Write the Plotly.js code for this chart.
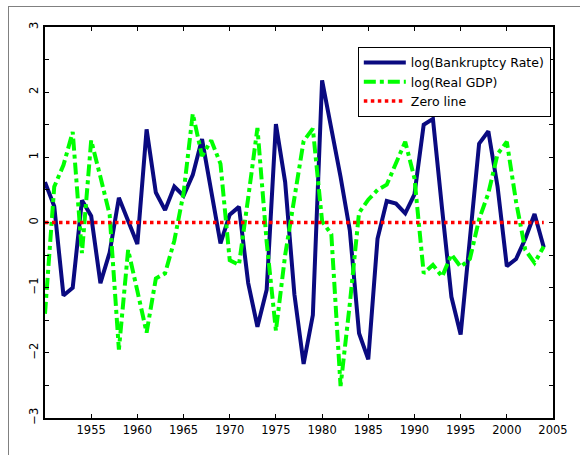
<!DOCTYPE html>
<html>
<head>
<meta charset="utf-8">
<script src="https://cdn.plot.ly/plotly-3.0.1.min.js"></script>
<style>
  html, body { margin: 0; padding: 0; background: #ffffff; }
  #wrap { position: relative; width: 580px; height: 455px; }
  #chart { position: absolute; left: 0; top: 0; width: 580px; height: 455px; }
  #frame { position: absolute; left: 8px; top: 6px; width: 572px; height: 449px;
           border-left: 1px solid #808080; border-top: 1px solid #808080; box-sizing: border-box; pointer-events: none; }
</style>
</head>
<body>
<div id="wrap">
  <div id="chart"></div>
  <div id="frame"></div>
</div>
<script>
const years = [1950, 1951, 1952, 1953, 1954, 1955, 1956, 1957, 1958, 1959,
               1960, 1961, 1962, 1963, 1964, 1965, 1966, 1967, 1968, 1969,
               1970, 1971, 1972, 1973, 1974, 1975, 1976, 1977, 1978, 1979,
               1980, 1981, 1982, 1983, 1984, 1985, 1986, 1987, 1988, 1989,
               1990, 1991, 1992, 1993, 1994, 1995, 1996, 1997, 1998, 1999,
               2000, 2001, 2002, 2003, 2004];

const logBankruptcyRate = [0.62, 0.25, -1.12, -1.00, 0.34, 0.10, -0.93, -0.46, 0.38, 0.03,
                           -0.33, 1.43, 0.46, 0.19, 0.55, 0.41, 0.73, 1.28, 0.50, -0.32,
                           0.12, 0.24, -0.93, -1.60, -1.03, 1.51, 0.62, -1.10, -2.17, -1.42,
                           2.18, 1.45, 0.70, -0.12, -1.70, -2.10, -0.25, 0.33, 0.29, 0.14,
                           0.43, 1.50, 1.59, 0.20, -1.14, -1.72, -0.28, 1.21, 1.40, 0.55,
                           -0.67, -0.56, -0.25, 0.13, -0.38];

const logRealGDP = [-1.40, 0.55, 0.88, 1.39, -0.47, 1.26, 0.70, 0.12, -1.95, -0.42,
                    -1.05, -1.69, -0.86, -0.78, -0.28, 0.45, 1.67, 1.02, 1.26, 0.90,
                    -0.58, -0.65, 0.38, 1.45, -0.30, -1.66, -0.50, 0.40, 1.25, 1.44,
                    0.02, -0.18, -2.51, -1.25, 0.15, 0.35, 0.50, 0.58, 0.92, 1.24,
                    0.68, -0.78, -0.65, -0.83, -0.49, -0.68, -0.56, 0.05, 0.45, 1.05,
                    1.24, 0.32, -0.42, -0.62, -0.37];

const zeroLine = [0, 0, 0, 0, 0, 0, 0, 0, 0, 0,
                  0, 0, 0, 0, 0, 0, 0, 0, 0, 0,
                  0, 0, 0, 0, 0, 0, 0, 0, 0, 0,
                  0, 0, 0, 0, 0, 0, 0, 0, 0, 0,
                  0, 0, 0, 0, 0, 0, 0, 0, 0, 0,
                  0, 0, 0, 0, 0];

const seriesNames = ['log(Bankruptcy Rate)', 'log(Real GDP)', 'Zero line'];
const xTickVals = [1955, 1960, 1965, 1970, 1975, 1980, 1985, 1990, 1995, 2000, 2005];
const yTickVals = [-3, -2, -1, 0, 1, 2, 3];

const font = { family: 'DejaVu Sans, sans-serif', size: 11.5, color: '#000000' };
const legendFont = { family: 'DejaVu Sans, sans-serif', size: 12.5, color: '#000000' };

const traces = [
  { x: years, y: logBankruptcyRate, name: seriesNames[0], type: 'scatter', mode: 'lines',
    line: { color: '#0a0a80', width: 4 } },
  { x: years, y: logRealGDP, name: seriesNames[1], type: 'scatter', mode: 'lines',
    line: { color: '#00ff00', width: 4, dash: 'dashdot' } },
  { x: years, y: zeroLine, name: seriesNames[2], type: 'scatter', mode: 'lines',
    line: { color: '#ff0000', width: 3.5, dash: 'dot' } }
];

const layout = {
  width: 580, height: 455,
  margin: { l: 45, r: 27, t: 27, b: 37, pad: 0 },
  paper_bgcolor: '#ffffff', plot_bgcolor: '#ffffff',
  font: font,
  showlegend: true,
  legend: {
    x: 0.9957, y: 0.949, xanchor: 'right', yanchor: 'top',
    bgcolor: '#ffffff', bordercolor: '#000000', borderwidth: 1,
    font: legendFont, tracegroupgap: 0, itemwidth: 42
  },
  xaxis: {
    range: [1950, 2005], tickmode: 'array', tickvals: xTickVals,
    ticks: 'inside', ticklen: 4, tickwidth: 1, tickcolor: '#000000',
    showline: true, linecolor: '#000000', linewidth: 2, mirror: 'allticks',
    showgrid: false, zeroline: false, tickfont: font
  },
  yaxis: {
    range: [-3, 3], tickmode: 'array', tickvals: yTickVals,
    ticks: 'inside', ticklen: 4, tickwidth: 1, tickcolor: '#000000',
    minor: { dtick: 0.5, ticks: 'inside', ticklen: 4, tickwidth: 1, tickcolor: '#000000', showgrid: false },
    showline: true, linecolor: '#000000', linewidth: 2, mirror: 'allticks',
    showgrid: false, zeroline: false, tickangle: -90, tickfont: font
  }
};

Plotly.newPlot('chart', traces, layout, { displayModeBar: false, staticPlot: true });
</script>
</body>
</html>
